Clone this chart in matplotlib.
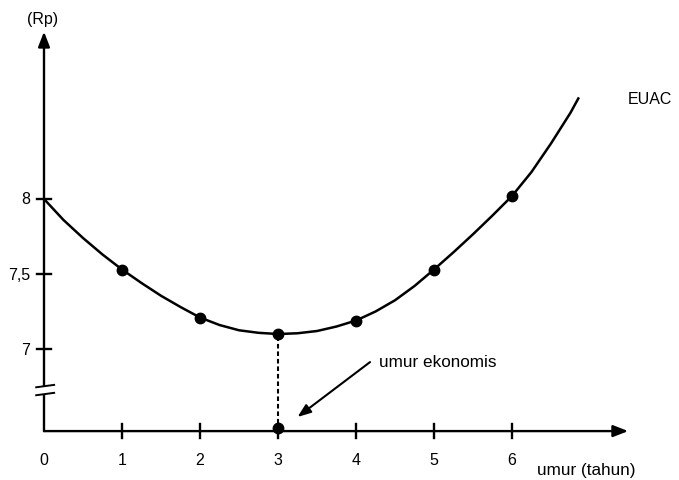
import matplotlib
matplotlib.use("Agg")
import matplotlib.pyplot as plt

plt.rcParams["font.family"] = ["Liberation Sans", "DejaVu Sans"]

# EUAC readings at each year (Rp)
YEARS      = [1, 2, 3, 4, 5, 6]
EUAC       = [7.53, 7.21, 7.10, 7.19, 7.53, 8.02]

# curve
CURVE_X = [0, 0.25, 0.5, 0.75, 1, 1.25, 1.5, 1.75, 2, 2.25, 2.5, 2.75, 3,
           3.25, 3.5, 3.75, 4, 4.25, 4.5, 4.75, 5, 5.25, 5.5, 5.75, 6,
           6.25, 6.5, 6.75, 6.85]
CURVE_Y = [8.00, 7.86, 7.74, 7.63, 7.53, 7.44, 7.355, 7.28, 7.21, 7.16,
           7.125, 7.108, 7.10, 7.105, 7.12, 7.15, 7.19, 7.25, 7.325, 7.42,
           7.53, 7.645, 7.765, 7.89, 8.02, 8.18, 8.37, 8.575, 8.67]

Y_TICKS   = [7, 7.5, 8]
Y_LABELS  = ["7", "7,5", "8"]
X_TICKS   = [0, 1, 2, 3, 4, 5, 6]
OPTIMUM   = 3
BASE      = 6.453   # where the (broken) x axis sits

fig = plt.figure(figsize=(6.79, 4.81), dpi=100)
ax = fig.add_axes([0, 0, 1, 1])
ax.set_xlim(-44 / 78, 635 / 78)
ax.set_ylim(6.127, 9.333)
ax.axis("off")

lw = 1.7
# axes with arrows
ax.annotate("", xy=(0, 9.115), xytext=(0, BASE),
            arrowprops=dict(arrowstyle="-|>,head_length=0.9,head_width=0.35",
                            lw=lw, color="black", shrinkA=0, shrinkB=0))
ax.annotate("", xy=(7.49, BASE), xytext=(0, BASE),
            arrowprops=dict(arrowstyle="-|>,head_length=0.9,head_width=0.35",
                            lw=lw, color="black", shrinkA=0, shrinkB=0))

# axis break
ax.fill_between([-0.03, 0.03], 6.705, 6.75, color="white", zorder=3)
for yb in (6.70, 6.753):
    ax.plot([-0.10, 0.13], [yb - 0.008, yb + 0.008], color="black", lw=1.4, zorder=4)

# ticks
for yt, lab in zip(Y_TICKS, Y_LABELS):
    ax.plot([-0.09, 0.09], [yt, yt], color="black", lw=lw)
    ax.text(-0.18, yt, lab, ha="right", va="center", fontsize=11.5)
for xt in X_TICKS:
    if xt > 0:
        ax.plot([xt, xt], [BASE - 0.047, BASE + 0.047], color="black", lw=lw)
    ax.text(xt, 6.262, str(xt), ha="center", va="center", fontsize=11.5)

# EUAC curve and points
ax.plot(CURVE_X, CURVE_Y, color="black", lw=1.8, solid_joinstyle="round", zorder=5)
ax.plot(YEARS, EUAC, "o", color="black", markersize=7.5, zorder=6)

# optimum marker
i_opt = YEARS.index(OPTIMUM)
ax.plot([OPTIMUM, OPTIMUM], [BASE, EUAC[i_opt]], color="black", lw=1.5,
        linestyle=(0, (2.2, 1.4)), zorder=4)
ax.plot(OPTIMUM, BASE + 0.02, "o", color="black", markersize=7.5, zorder=6)

ax.annotate("", xy=(3.25, 6.547), xytext=(4.18, 6.913),
            arrowprops=dict(arrowstyle="-|>,head_length=0.8,head_width=0.3",
                            lw=1.5, color="black", shrinkA=0, shrinkB=0))
ax.text(4.295, 6.92, "umur ekonomis", ha="left", va="center", fontsize=12.3)

# labels
ax.text(-0.013, 9.2, "(Rp)", ha="center", va="center", fontsize=11.5)
ax.text(7.49, 8.673, "EUAC", ha="left", va="center", fontsize=11.5)
ax.text(6.32, 6.2, "umur (tahun)", ha="left", va="center", fontsize=12.3)

fig.savefig("out.png", dpi=100)
